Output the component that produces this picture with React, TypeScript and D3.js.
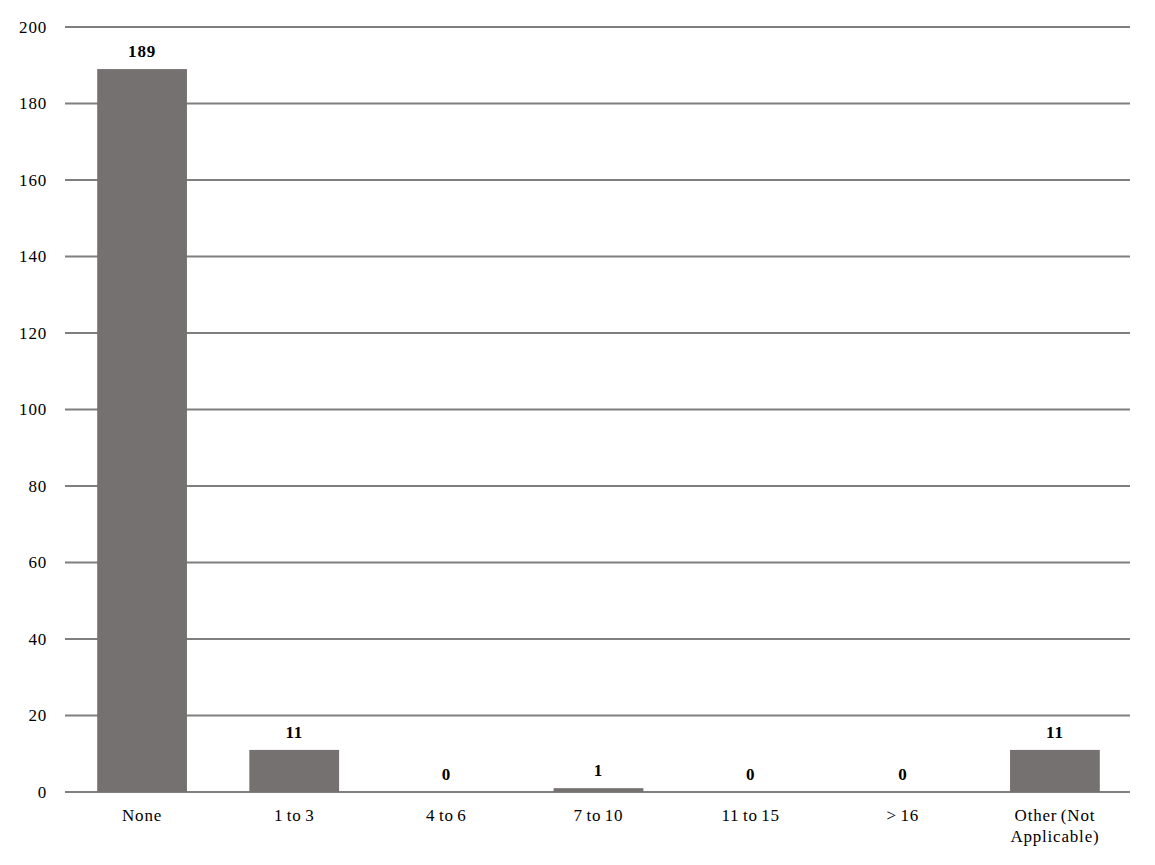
import { scaleBand, scaleLinear } from 'd3'

const categories = ['None', '1 to 3', '4 to 6', '7 to 10', '11 to 15', '> 16', 'Other (Not Applicable)']
const counts = [189, 11, 0, 1, 0, 0, 11]
const yTicks = [0, 20, 40, 60, 80, 100, 120, 140, 160, 180, 200]

const categoryLines: Record<string, string[]> = {
  'Other (Not Applicable)': ['Other (Not', 'Applicable)'],
}

export default function App() {
  const width = 1155
  const height = 865
  const left = 66
  const right = 1131
  const top = 27
  const bottom = 792
  const font = '"Liberation Serif", "Times New Roman", serif'

  const xScale = scaleBand<string>().domain(categories).range([left, right]).paddingInner(0.41).paddingOuter(0.205)
  const yScale = scaleLinear().domain([0, 200]).range([bottom, top])

  return (
    <svg
      width={width}
      height={height}
      viewBox={`0 0 ${width} ${height}`}
      style={{ position: 'absolute', left: 0, top: 0, background: '#fff' }}
      fontFamily={font}
      fontSize={17}
      letterSpacing={0.8}
      wordSpacing={-1.5}
    >
      {yTicks.map((tick) => (
        <g key={tick}>
          <line x1={left - 1} x2={right - 1} y1={yScale(tick)} y2={yScale(tick)} stroke="#7f7f7f" strokeWidth={2} />
          <text x={47} y={yScale(tick)} dy="0.35em" textAnchor="end" fill="#000">
            {tick}
          </text>
        </g>
      ))}
      {categories.map((category, index) => {
        const x = xScale(category) ?? 0
        const value = counts[index]
        const barTop = yScale(value)
        const center = x + xScale.bandwidth() / 2
        const lines = categoryLines[category] ?? [category]
        return (
          <g key={category}>
            {value > 0 && (
              <rect x={x} y={barTop} width={xScale.bandwidth()} height={bottom - barTop} fill="#767171" />
            )}
            <text x={center} y={barTop - 12} textAnchor="middle" fontWeight="bold" fill="#000">
              {value}
            </text>
            {lines.map((label, lineIndex) => (
              <text key={label} x={center} y={821 + lineIndex * 21} textAnchor="middle" fill="#000">
                {label}
              </text>
            ))}
          </g>
        )
      })}
    </svg>
  )
}
